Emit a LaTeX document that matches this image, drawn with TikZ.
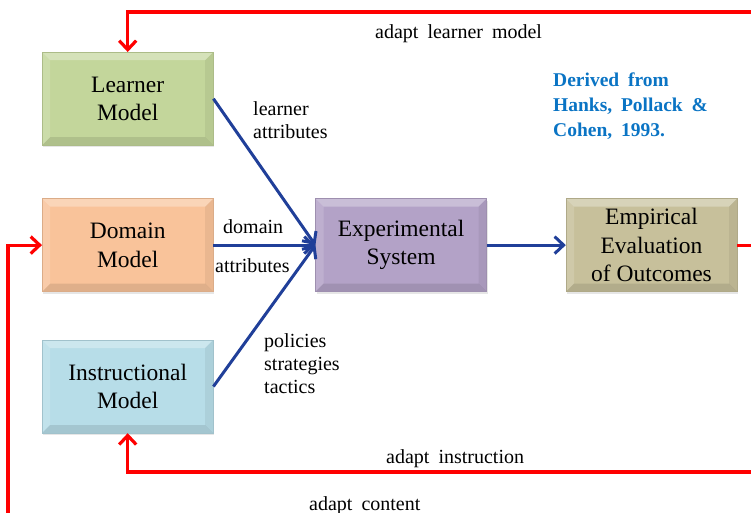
\documentclass[tikz,border=0pt]{standalone}
\usepackage{fontspec}
\setmainfont{Liberation Serif}
\newfontfamily\widefont[WordSpace=1.8]{Liberation Serif}
\usepackage{xcolor}
\usepackage{tikz}
\usetikzlibrary{arrows.meta,shadows,positioning}

\definecolor{lgreen}{HTML}{C3D69B}
\definecolor{lpeach}{HTML}{F9C39A}
\definecolor{lcyan}{HTML}{B7DDE8}
\definecolor{lpurple}{HTML}{B3A2C7}
\definecolor{ltan}{HTML}{C7C09B}
\definecolor{arrblue}{HTML}{203F99}
\definecolor{refblue}{HTML}{0A74C4}

\newcommand\boxfont{\fontsize{23.5}{28.5}\selectfont}
\newcommand\lblfont{\widefont\fontsize{20}{23}\selectfont}

\tikzset{
  box/.style={draw=#1!88!black, line width=0.4pt, fill=#1, minimum width=171pt, minimum height=93pt,
    inner sep=2pt, align=center, font=\boxfont,
    drop shadow={opacity=0.2, shadow xshift=1pt, shadow yshift=-2pt},
    path picture={
      \fill[white,opacity=0.3] (path picture bounding box.north west) -- (path picture bounding box.north east)
        -- ([shift={(-8pt,-8pt)}]path picture bounding box.north east) -- ([shift={(8pt,-8pt)}]path picture bounding box.north west) -- cycle;
      \fill[white,opacity=0.15] (path picture bounding box.north west) -- (path picture bounding box.south west)
        -- ([shift={(8pt,8pt)}]path picture bounding box.south west) -- ([shift={(8pt,-8pt)}]path picture bounding box.north west) -- cycle;
      \fill[black,opacity=0.1] (path picture bounding box.south west) -- (path picture bounding box.south east)
        -- ([shift={(-8pt,8pt)}]path picture bounding box.south east) -- ([shift={(8pt,8pt)}]path picture bounding box.south west) -- cycle;
      \fill[black,opacity=0.06] (path picture bounding box.north east) -- (path picture bounding box.south east)
        -- ([shift={(-8pt,8pt)}]path picture bounding box.south east) -- ([shift={(-8pt,-8pt)}]path picture bounding box.north east) -- cycle;
    }},
  lbl/.style={inner sep=0pt, align=left, font=\lblfont},
  blueline/.style={arrblue, line width=3pt},
  redline/.style={red, line width=3.2pt}
}

\begin{document}
\begin{tikzpicture}[>={Straight Barb[length=9pt,width=17pt]}]

\coordinate(O1) at (0,0);
\useasboundingbox (O1) rectangle (751pt,-513pt);

\node[below right=52pt and 42pt of O1, box=lgreen](lm) {Learner\\Model};
\node[below=53pt of lm, box=lpeach](dm) {Domain\\Model};
\node[below=48pt of dm, box=lcyan](im) {Instructional\\Model};
\node[right=102pt of dm, box=lpurple](xs) {Experimental\\System};
\node[right=79pt of xs, box=ltan](ee) {Empirical\\Evaluation\\of Outcomes};

\node[below right=24pt and 375pt of O1, lbl](alm) {adapt learner model};
\node[below right=101pt and 253pt of O1, lbl](la) {learner\\attributes};
\node[below right=219pt and 223pt of O1, lbl](dd) {domain};
\node[below right=258pt and 215pt of O1, lbl](da) {attributes};
\node[below right=333pt and 264pt of O1, lbl](pst) {policies\\strategies\\tactics};
\node[below right=449pt and 386pt of O1, lbl](ai) {adapt instruction};
\node[below right=496pt and 309pt of O1, lbl](ac) {adapt content};
\node[below right=73pt and 553pt of O1, inner sep=0pt, align=left, text=refblue,
  font=\widefont\bfseries\fontsize{19.5}{25}\selectfont](src) {Derived from\\Hanks, Pollack \&\\Cohen, 1993.};

\coordinate(R) at (751pt,0);
\coordinate[below=12pt of R](rt);
\coordinate[below=472pt of R](rb);
\coordinate(lb) at (8pt,-520pt);

\draw[->, blueline] (lm.east) -- (xs.west);
\draw[->, blueline] (dm.east) -- (xs.west);
\draw[->, blueline] (im.east) -- (xs.west);
\draw[->, blueline] (xs.east) -- (ee.west);
\draw[redline] (ee.east) -- (ee.east -| R);
\draw[->, redline] (rt) -| (lm.north);
\draw[->, redline] (rb) -| (im.south);
\draw[->, redline] (lb) |- (dm.west);
\end{tikzpicture}
\end{document}
